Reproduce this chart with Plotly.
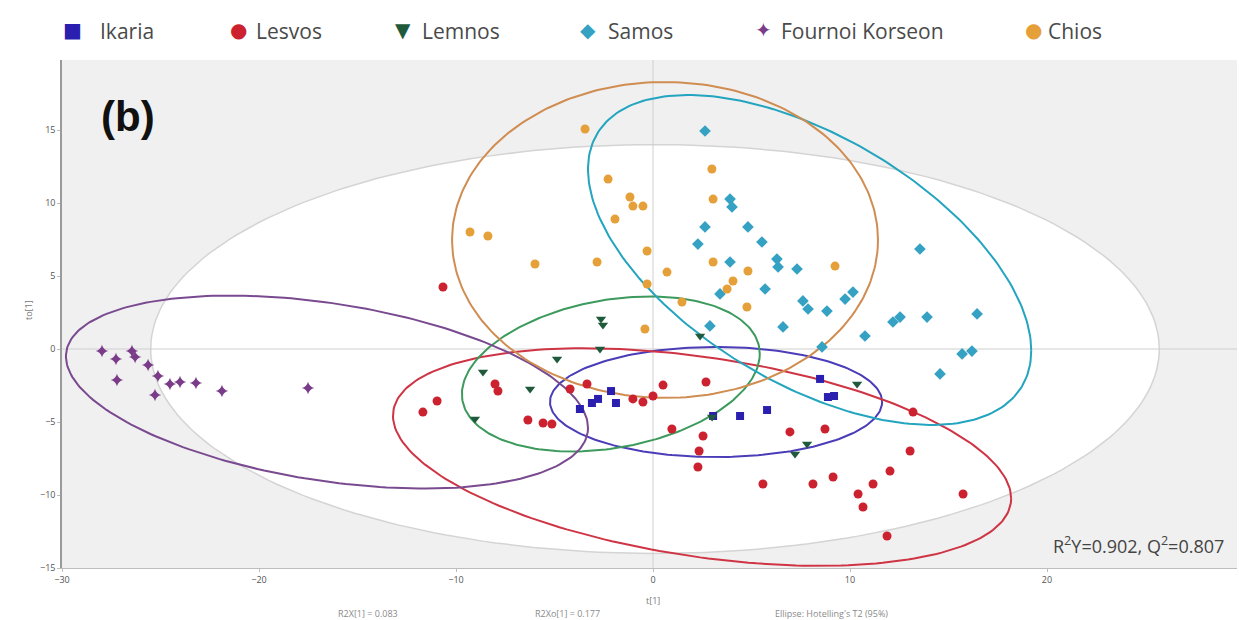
import numpy as np
import plotly.graph_objects as go

# ---- score values (t[1], to[1]) per island ----
ikaria_x = [-3.71, -3.10, -2.79, -2.13, -1.88, 3.05, 4.42, 5.79, 8.48, 8.88, 9.19]
ikaria_y = [-4.11, -3.70, -3.42, -2.88, -3.70, -4.59, -4.59, -4.18, -2.05, -3.29, -3.22]

lesvos_x = [-10.66, -11.68, -10.96, -8.02, -7.87, -6.35, -5.58, -5.13, -4.21, -3.35,
            -1.02, -0.51, 0.00, 0.51, 0.96, 2.69, 2.54, 2.34, 2.28, 6.95, 8.73, 5.58,
            8.12, 9.14, 10.41, 10.66, 11.17, 12.03, 13.05, 13.20, 15.74, 11.88]
lesvos_y = [4.25, -4.32, -3.56, -2.40, -2.88, -4.86, -5.07, -5.14, -2.74, -2.40,
            -3.42, -3.63, -3.22, -2.47, -5.48, -2.26, -5.96, -6.99, -8.08, -5.68, -5.48, -9.25,
            -9.25, -8.77, -9.93, -10.82, -9.25, -8.36, -6.99, -4.32, -9.93, -12.81]

lemnos_x = [-2.54, -2.64, 2.39, -6.24, -8.63, -9.04, -4.87, -2.69, 3.00, 7.82, 7.21, 10.36]
lemnos_y = [1.64, 2.05, 0.89, -2.74, -1.58, -4.79, -0.68, 0.00, -4.66, -6.51, -7.19, -2.40]

samos_x = [2.64, 3.91, 4.01, 2.64, 2.28, 4.82, 5.53, 3.91, 6.29, 6.35, 7.31, 3.40, 5.69,
           7.61, 7.87, 8.83, 9.75, 10.15, 13.55, 12.18, 12.54, 13.91, 16.45, 6.60, 10.76,
           2.89, 14.57, 15.69, 16.19, 8.58]
samos_y = [14.93, 10.27, 9.73, 8.36, 7.19, 8.36, 7.33, 5.96, 6.16, 5.62, 5.48, 3.77, 4.11,
           3.29, 2.74, 2.60, 3.42, 3.90, 6.85, 1.85, 2.19, 2.19, 2.40, 1.51, 0.89,
           1.58, -1.71, -0.34, -0.14, 0.14]

fournoi_x = [-27.97, -27.26, -26.45, -26.29, -25.63, -27.21, -25.13, -24.52, -24.01,
             -23.20, -25.28, -21.88, -17.51]
fournoi_y = [-0.14, -0.68, -0.14, -0.55, -1.10, -2.12, -1.85, -2.40, -2.26,
             -2.33, -3.15, -2.88, -2.67]

chios_x = [-3.45, -2.28, -1.17, -1.02, -0.51, -1.93, -9.29, -8.38, -5.99, -2.84, -0.30,
           0.71, -0.30, 1.47, -0.41, 2.99, 3.05, 3.05, 4.82, 4.06, 4.77, 9.24, 3.76]
chios_y = [15.07, 11.64, 10.41, 9.79, 9.79, 8.90, 8.01, 7.74, 5.82, 5.96, 6.71,
           5.27, 4.45, 3.22, 1.37, 12.33, 10.27, 5.96, 5.34, 4.66, 2.88, 5.68, 4.11]

# confidence ellipses: centre, half-extents along t[1] / to[1], correlation
ellipse_total = (0.1, 0.0, 25.6, 14.0, 0.0)
ellipse_ikaria = (3.20, -3.63, 8.43, 3.77, 0.0)
ellipse_lesvos = (2.49, -7.40, 15.69, 7.45, -0.38)
ellipse_lemnos = (-2.14, -1.71, 7.56, 5.31, 0.26)
ellipse_samos = (7.95, 6.10, 11.25, 11.30, -0.55)
ellipse_fournoi = (-16.55, -2.95, 13.25, 6.61, -0.37)
ellipse_chios = (0.61, 7.47, 10.81, 10.82, 0.0)

x_ticks = [-30, -20, -10, 0, 10, 20]
y_ticks = [-15, -10, -5, 0, 5, 10, 15]

groups = [
    ("Ikaria", ikaria_x, ikaria_y, ellipse_ikaria, "#2b1fb0", "#4b3db8", "square", 8, "■"),
    ("Lesvos", lesvos_x, lesvos_y, ellipse_lesvos, "#cc2230", "#cf3445", "circle", 9, "●"),
    ("Lemnos", lemnos_x, lemnos_y, ellipse_lemnos, "#1f5a3c", "#3c9a5c", "triangle-down", 9, "▼"),
    ("Samos", samos_x, samos_y, ellipse_samos, "#35a2c4", "#23a4bf", "diamond", 9, "◆"),
    ("Fournoi Korseon", fournoi_x, fournoi_y, ellipse_fournoi, "#7a3c88", "#7a4a90",
     "star-diamond", 9, "✦"),
    ("Chios", chios_x, chios_y, ellipse_chios, "#e6a03a", "#d08d52", "circle", 9, "●"),
]


def ellipse_path(cx, cy, sx, sy, rho, n=240):
    t = np.linspace(0, 2 * np.pi, n)
    x = cx + sx * np.cos(t)
    y = cy + sy * (rho * np.cos(t) + np.sqrt(1 - rho ** 2) * np.sin(t))
    return x, y


fig = go.Figure()

# Hotelling's T2 ellipse for the whole model
ex, ey = ellipse_path(*ellipse_total)
fig.add_trace(go.Scatter(x=ex, y=ey, mode="lines", fill="toself", fillcolor="white",
                         line=dict(color="#d4d4d4", width=1.5), hoverinfo="skip",
                         showlegend=False))

# origin cross lines
fig.add_trace(go.Scatter(x=[-30, 30], y=[0, 0], mode="lines",
                         line=dict(color="#cfcfcf", width=1), hoverinfo="skip", showlegend=False))
fig.add_trace(go.Scatter(x=[0, 0], y=[-15, 20], mode="lines",
                         line=dict(color="#cfcfcf", width=1), hoverinfo="skip", showlegend=False))

# per-island ellipses
for name, gx, gy, ell, mcol, lcol, sym, size, glyph in groups:
    ex, ey = ellipse_path(*ell)
    fig.add_trace(go.Scatter(x=ex, y=ey, mode="lines", line=dict(color=lcol, width=2),
                             hoverinfo="skip", showlegend=False))

# score points
for name, gx, gy, ell, mcol, lcol, sym, size, glyph in groups:
    fig.add_trace(go.Scatter(x=gx, y=gy, mode="markers", name=name,
                             marker=dict(symbol=sym, size=size, color=mcol,
                                         line=dict(width=0)),
                             showlegend=False))

PL, PR, PT, PB = 62, 1237, 60, 568


def paper_x(px):
    return (px - PL) / (PR - PL)


def paper_y(py):
    return (PB - py) / (PB - PT)


# key along the top: coloured glyph followed by the island name
key_marker_x = [72, 238, 403, 588, 763, 1033]
key_text_x = [98, 254, 420, 606, 779, 1046]
annotations = []
for (name, gx, gy, ell, mcol, lcol, sym, size, glyph), mx, tx in zip(groups, key_marker_x,
                                                                      key_text_x):
    annotations.append(dict(text=glyph, x=paper_x(mx), y=paper_y(30), xref="paper",
                            yref="paper", xanchor="center", yanchor="middle", showarrow=False,
                            font=dict(family="DejaVu Sans", size=20, color=mcol)))
    annotations.append(dict(text=name, x=paper_x(tx), y=paper_y(31), xref="paper", yref="paper",
                            xanchor="left", yanchor="middle", showarrow=False,
                            font=dict(family="Open Sans", size=21, color="#4a4a4a")))

annotations += [
    dict(text="<b>(b)</b>", x=paper_x(99), y=paper_y(116), xref="paper", yref="paper",
         xanchor="left", yanchor="middle", showarrow=False,
         font=dict(family="Liberation Sans", size=42, color="#111111")),
    dict(text="R<sup>2</sup>Y=0.902, Q<sup>2</sup>=0.807", x=paper_x(1226), y=paper_y(545),
         xref="paper", yref="paper", xanchor="right", yanchor="middle", showarrow=False,
         font=dict(family="Open Sans", size=18, color="#444444")),
    dict(text="t[1]", x=paper_x(653), y=paper_y(600), xref="paper", yref="paper",
         xanchor="center", yanchor="middle", showarrow=False,
         font=dict(family="Open Sans", size=9, color="#777777")),
    dict(text="to[1]", x=paper_x(28), y=paper_y(310), xref="paper", yref="paper",
         xanchor="center", yanchor="middle", showarrow=False, textangle=-90,
         font=dict(family="Open Sans", size=9, color="#777777")),
    dict(text="R2X[1] = 0.083", x=paper_x(368), y=paper_y(613), xref="paper", yref="paper",
         xanchor="center", yanchor="middle", showarrow=False,
         font=dict(family="Open Sans", size=9, color="#8a8a8a")),
    dict(text="R2Xo[1] = 0.177", x=paper_x(567), y=paper_y(613), xref="paper", yref="paper",
         xanchor="center", yanchor="middle", showarrow=False,
         font=dict(family="Open Sans", size=9, color="#8a8a8a")),
    dict(text="Ellipse: Hotelling's T2 (95%)", x=paper_x(832), y=paper_y(613), xref="paper",
         yref="paper", xanchor="center", yanchor="middle", showarrow=False,
         font=dict(family="Open Sans", size=9, color="#8a8a8a")),
]

x_span = (PR - PL) / 19.7
y_span = (PB - PT) / 14.6

fig.update_layout(
    width=1239, height=620,
    margin=dict(l=PL, r=1239 - PR, t=PT, b=620 - PB),
    paper_bgcolor="white",
    plot_bgcolor="#f0f0f0",
    showlegend=False,
    annotations=annotations,
    xaxis=dict(range=[-30, -30 + x_span], tickvals=x_ticks, showgrid=False, zeroline=False,
               showline=True, linecolor="#bdbdbd", linewidth=1, ticks="outside", ticklen=3,
               tickcolor="#bdbdbd", tickfont=dict(family="Open Sans", size=9, color="#555555")),
    yaxis=dict(range=[-15, -15 + y_span], tickvals=y_ticks, showgrid=False, zeroline=False,
               showline=True, linecolor="#9a9a9a", linewidth=1.5, ticks="outside", ticklen=3,
               tickcolor="#bdbdbd", tickfont=dict(family="Open Sans", size=9, color="#555555")),
)

fig.write_html("out.html")
